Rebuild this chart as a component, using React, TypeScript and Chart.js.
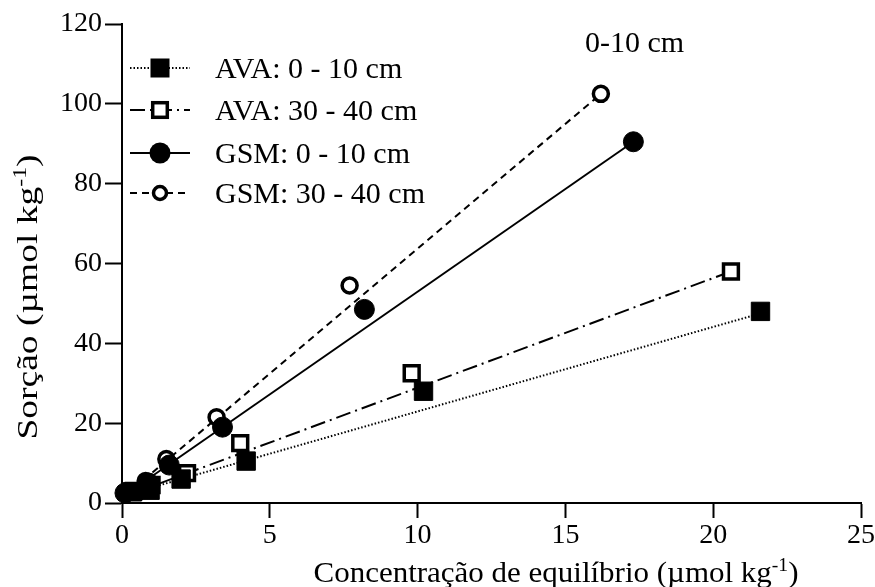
import React, { useEffect, useRef } from 'react';
import { Chart, registerables } from 'chart.js';

Chart.register(...registerables);

// ---- data ----
const seriesLabels = ['AVA: 0 - 10 cm', 'AVA: 30 - 40 cm', 'GSM: 0 - 10 cm', 'GSM: 30 - 40 cm'];

const avaTopX = [0.35, 0.95, 2.0, 4.2, 10.2, 21.6];
const avaTopY = [2.8, 3.2, 6.0, 10.5, 28, 48];
const avaDeepX = [0.4, 1.0, 2.2, 4.0, 9.8, 20.6];
const avaDeepY = [3.0, 4.5, 7.5, 15, 32.5, 58];
const gsmTopX = [0.1, 0.9, 1.6, 3.4, 8.2, 17.3];
const gsmTopY = [2.5, 5.0, 9.5, 19, 48.5, 90.5];
const gsmDeepX = [0.15, 0.8, 1.5, 3.2, 7.7, 16.2];
const gsmDeepY = [2.5, 5.5, 11, 21.5, 54.5, 102.5];

// fitted regression lines: [start, end]
const fitAvaTopX = [0.35, 21.6];
const fitAvaTopY = [2.5, 47.5];
const fitAvaDeepX = [0.4, 20.6];
const fitAvaDeepY = [2.5, 58];
const fitGsmTopX = [0.1, 17.3];
const fitGsmTopY = [2.0, 90.5];
const fitGsmDeepX = [0.1, 16.2];
const fitGsmDeepY = [1.8, 102.5];

const xTicks = [0, 5, 10, 15, 20, 25];
const yTicks = [0, 20, 40, 60, 80, 100, 120];

const xTitle = 'Concentração de equilíbrio (µmol kg';
const yTitle = 'Sorção (µmol kg';
const unitSup = '-1';
const annotation = '0-10 cm';

// ---- styles ----
const FONT = '"Liberation Serif", "Times New Roman", serif';
const FS = 30;
const TICK_FS = 28;

type MarkerKind = 'fsq' | 'osq' | 'fci' | 'oci';
const markerKinds: MarkerKind[] = ['fsq', 'osq', 'fci', 'oci'];
const dashes: number[][] = [[1.5, 2], [15, 5, 2, 5], [], [7, 5]];

const pts = (xs: number[], ys: number[]) => xs.map((x, i) => ({ x, y: ys[i] }));

function pointProps(kind: MarkerKind) {
  switch (kind) {
    case 'fsq':
      return { pointStyle: 'rect', pointRadius: 13, pointBackgroundColor: '#000', pointBorderColor: '#000', pointBorderWidth: 1 };
    case 'osq':
      return { pointStyle: 'rect', pointRadius: 10.5, pointBackgroundColor: '#fff', pointBorderColor: '#000', pointBorderWidth: 3.5 };
    case 'fci':
      return { pointStyle: 'circle', pointRadius: 10, pointBackgroundColor: '#000', pointBorderColor: '#000', pointBorderWidth: 1 };
    default:
      return { pointStyle: 'circle', pointRadius: 7.5, pointBackgroundColor: '#fff', pointBorderColor: '#000', pointBorderWidth: 3.5 };
  }
}

function drawMarker(ctx: CanvasRenderingContext2D, kind: MarkerKind, x: number, y: number) {
  ctx.save();
  ctx.setLineDash([]);
  ctx.strokeStyle = '#000';
  if (kind === 'fsq') {
    ctx.fillStyle = '#000';
    ctx.fillRect(x - 9.5, y - 9.5, 19, 19);
  } else if (kind === 'osq') {
    ctx.fillStyle = '#fff';
    ctx.lineWidth = 3.5;
    ctx.fillRect(x - 7.3, y - 7.3, 14.6, 14.6);
    ctx.strokeRect(x - 7.3, y - 7.3, 14.6, 14.6);
  } else if (kind === 'fci') {
    ctx.fillStyle = '#000';
    ctx.beginPath();
    ctx.arc(x, y, 10.5, 0, Math.PI * 2);
    ctx.fill();
  } else {
    ctx.fillStyle = '#fff';
    ctx.lineWidth = 3.5;
    ctx.beginPath();
    ctx.arc(x, y, 6.5, 0, Math.PI * 2);
    ctx.fill();
    ctx.stroke();
  }
  ctx.restore();
}

// draws "main" + superscript + "tail" centred at (cx, baseline), stretched to targetWidth
function drawRich(ctx: CanvasRenderingContext2D, main: string, sup: string, tail: string, cx: number, baseline: number, targetWidth: number) {
  const supFs = Math.round(FS * 0.62);
  ctx.font = `${FS}px ${FONT}`;
  const w1 = ctx.measureText(main).width;
  const w3 = ctx.measureText(tail).width;
  ctx.font = `${supFs}px ${FONT}`;
  const w2 = ctx.measureText(sup).width;
  const total = w1 + w2 + w3;
  const k = targetWidth / total;
  ctx.save();
  ctx.translate(cx, baseline);
  ctx.scale(k, 1);
  let x = -total / 2;
  ctx.textAlign = 'left';
  ctx.textBaseline = 'alphabetic';
  ctx.fillStyle = '#000';
  ctx.font = `${FS}px ${FONT}`;
  ctx.fillText(main, x, 0);
  x += w1;
  ctx.font = `${supFs}px ${FONT}`;
  ctx.fillText(sup, x, -FS * 0.36);
  x += w2;
  ctx.font = `${FS}px ${FONT}`;
  ctx.fillText(tail, x, 0);
  ctx.restore();
}

const decorPlugin = {
  id: 'decor',
  afterDraw(chart: any) {
    const ctx: CanvasRenderingContext2D = chart.ctx;
    ctx.save();
    // legend
    const rows = [68, 110, 153, 193];
    seriesLabels.forEach((label, i) => {
      const y = rows[i];
      ctx.save();
      ctx.strokeStyle = '#000';
      ctx.lineWidth = 2;
      ctx.setLineDash(dashes[i]);
      ctx.beginPath();
      ctx.moveTo(130, y);
      ctx.lineTo(190, y);
      ctx.stroke();
      ctx.restore();
      drawMarker(ctx, markerKinds[i], 160, y);
      ctx.font = `${FS}px ${FONT}`;
      ctx.fillStyle = '#000';
      ctx.textAlign = 'left';
      ctx.textBaseline = 'alphabetic';
      ctx.fillText(label, 215, y + 10);
    });
    // annotation
    ctx.font = `${FS}px ${FONT}`;
    ctx.textAlign = 'left';
    ctx.textBaseline = 'alphabetic';
    ctx.fillText(annotation, 585, 52);
    // axis titles
    drawRich(ctx, xTitle, unitSup, ')', 556, 582, 485);
    ctx.save();
    ctx.translate(37, 297);
    ctx.rotate(-Math.PI / 2);
    drawRich(ctx, yTitle, unitSup, ')', 0, 0, 285);
    ctx.restore();
    ctx.restore();
  },
};

export default function App() {
  const ref = useRef<HTMLCanvasElement>(null);

  useEffect(() => {
    if (!ref.current) return;
    const scatterSets = [
      [avaTopX, avaTopY],
      [avaDeepX, avaDeepY],
      [gsmTopX, gsmTopY],
      [gsmDeepX, gsmDeepY],
    ];
    const fitSets = [
      [fitAvaTopX, fitAvaTopY],
      [fitAvaDeepX, fitAvaDeepY],
      [fitGsmTopX, fitGsmTopY],
      [fitGsmDeepX, fitGsmDeepY],
    ];
    // filled markers on top of open ones
    const drawOrder = [1, 2, 0, 3];
    const datasets: any[] = [];
    scatterSets.forEach(([xs, ys], i) => {
      datasets.push({
        type: 'scatter',
        label: seriesLabels[i],
        data: pts(xs, ys),
        showLine: false,
        clip: false,
        order: drawOrder[i],
        ...pointProps(markerKinds[i]),
        pointHoverRadius: pointProps(markerKinds[i]).pointRadius,
      });
    });
    fitSets.forEach(([xs, ys], i) => {
      datasets.push({
        type: 'line',
        label: 'fit ' + seriesLabels[i],
        data: pts(xs, ys),
        borderColor: '#000',
        borderWidth: 2,
        borderDash: dashes[i],
        pointRadius: 0,
        fill: false,
        tension: 0,
        clip: false,
        order: 10,
      });
    });

    const tickFont = { family: FONT, size: TICK_FS };
    const chart = new Chart(ref.current, {
      type: 'scatter',
      data: { datasets },
      options: {
        responsive: false,
        animation: false,
        devicePixelRatio: 1,
        layout: { padding: { left: 0, right: 13, top: 24, bottom: 0 } },
        plugins: { legend: { display: false }, tooltip: { enabled: false }, title: { display: false } },
        events: [],
        scales: {
          x: {
            type: 'linear',
            min: 0,
            max: 25,
            afterBuildTicks: (s: any) => { s.ticks = xTicks.map((v) => ({ value: v })); },
            ticks: { autoSkip: false, maxRotation: 0, padding: 1, color: '#000', font: tickFont },
            grid: { display: true, drawOnChartArea: false, drawTicks: true, tickLength: 15, tickWidth: 2, tickColor: '#000' },
            border: { display: true, color: '#000', width: 2 },
            afterFit: (s: any) => { s.height = 84; s.paddingLeft = 0; s.paddingRight = 0; },
          },
          y: {
            type: 'linear',
            min: 0,
            max: 120,
            afterBuildTicks: (s: any) => { s.ticks = yTicks.map((v) => ({ value: v })); },
            ticks: { autoSkip: false, padding: 3, color: '#000', font: tickFont },
            grid: { display: true, drawOnChartArea: false, drawTicks: true, tickLength: 17, tickWidth: 2, tickColor: '#000' },
            border: { display: true, color: '#000', width: 2 },
            afterFit: (s: any) => { s.width = 122; s.paddingTop = 0; s.paddingBottom = 0; },
          },
        },
      } as any,
      plugins: [decorPlugin],
    });
    return () => chart.destroy();
  }, []);

  return (
    <div style={{ position: 'absolute', left: 0, top: 0, width: 875, height: 587, background: '#fff' }}>
      <canvas ref={ref} width={875} height={587} style={{ width: 875, height: 587, display: 'block' }} />
    </div>
  );
}
